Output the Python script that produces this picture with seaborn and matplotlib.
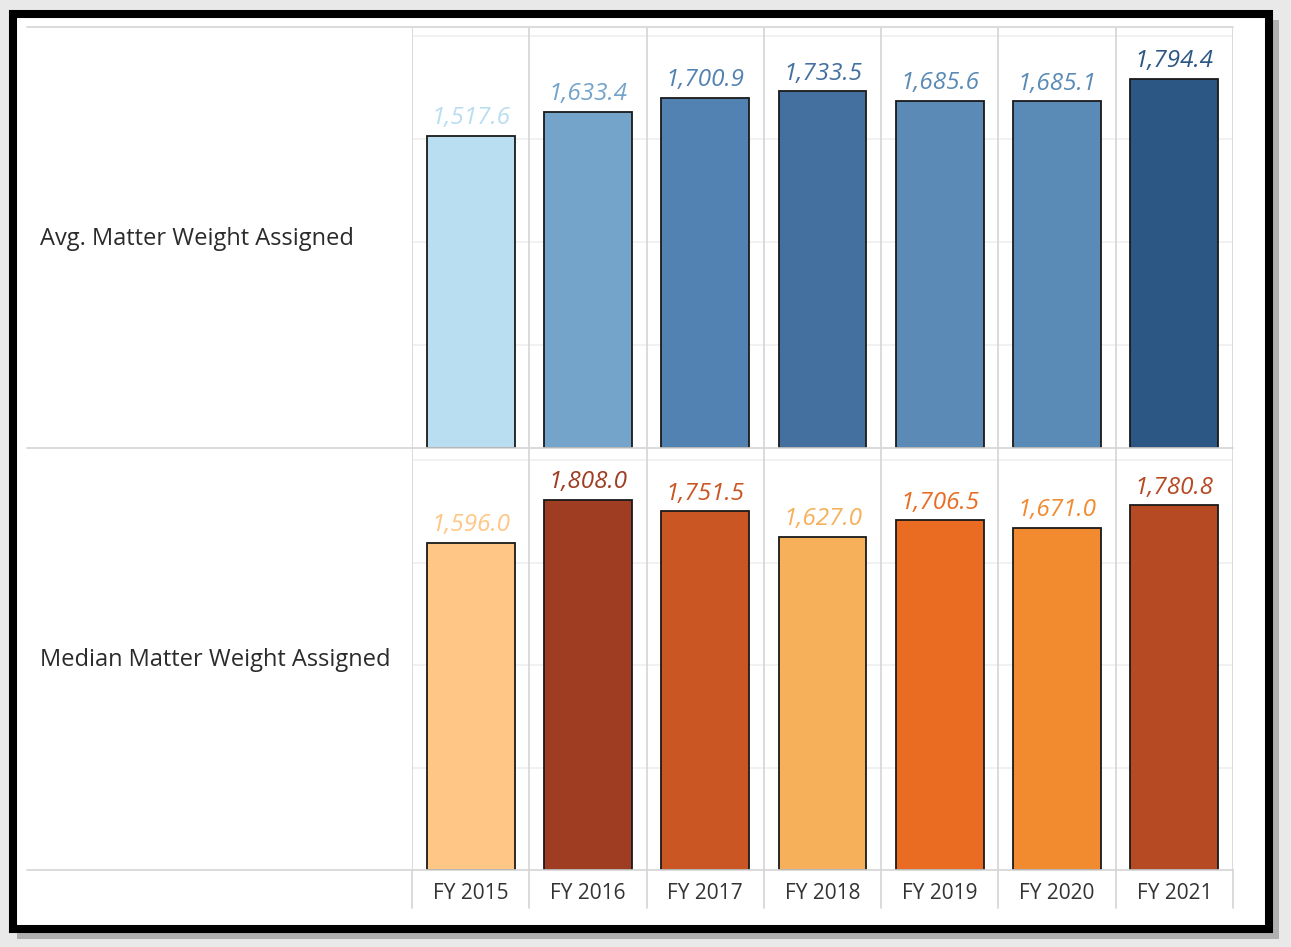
import matplotlib
matplotlib.use("Agg")
import matplotlib.pyplot as plt
import seaborn as sns
import pandas as pd
from matplotlib.lines import Line2D
from matplotlib.patches import Rectangle

# Data
years = ["FY 2015", "FY 2016", "FY 2017", "FY 2018", "FY 2019", "FY 2020", "FY 2021"]
avg_weight = [1517.6, 1633.4, 1700.9, 1733.5, 1685.6, 1685.1, 1794.4]
median_weight = [1596.0, 1808.0, 1751.5, 1627.0, 1706.5, 1671.0, 1780.8]
row_labels = ["Avg. Matter Weight Assigned", "Median Matter Weight Assigned"]

avg_colors = ["#b9ddf1", "#74a4ca", "#5282b1", "#44709f", "#5a8ab5", "#5a8ab6", "#2c5784"]
median_colors = ["#ffc685", "#9e3d22", "#c95623", "#f6b05a", "#e96c22", "#f28a30", "#b54a23"]

W, H = 1291, 947
sns.set_theme(style="white")
plt.rcParams["font.family"] = ["Open Sans", "DejaVu Sans"]

fig = plt.figure(figsize=(W / 100, H / 100), dpi=100, facecolor="#e9e9e9")


def fx(px):
    return px / W


def fy(py):
    return 1 - py / H


def frect(x0, y0, x1, y1, **kw):
    # rectangle given in pixel coords (top-left origin)
    return Rectangle((fx(x0), fy(y1)), fx(x1) - fx(x0), fy(y0) - fy(y1),
                     transform=fig.transFigure, **kw)


# frame shadow, white card and black border
fig.add_artist(frect(17, 20, 1279, 939, facecolor="#b0b0b0", edgecolor="none", zorder=0.05))
fig.add_artist(frect(13, 14, 1269, 929, facecolor="white", edgecolor="black",
                     linewidth=5.8, zorder=0.1))

grid_dark = "#d4d4d4"
grid_light = "#efefef"

panels = [
    (avg_weight, avg_colors, 28, 448, 2040),
    (median_weight, median_colors, 448, 870, 2060),
]

for i, (vals, cols, top, bottom, ymax) in enumerate(panels):
    ax = fig.add_axes([fx(412), fy(bottom), fx(1233) - fx(412), fy(top) - fy(bottom)])
    ax.set_zorder(1)
    ax.set_facecolor("none")
    df = pd.DataFrame({"year": years, "value": vals})
    sns.barplot(data=df, x="year", y="value", hue="year", palette=dict(zip(years, cols)),
                saturation=1, width=0.75, edgecolor="#1a1a1a", linewidth=1.3,
                legend=False, ax=ax, zorder=3)
    for cont, c in zip(ax.containers, cols):
        ax.bar_label(cont, labels=[f"{v:,.1f}" for v in cont.datavalues], padding=4,
                     color=c, fontsize=17.5, fontstyle="italic", zorder=4)
    ax.set_ylim(0, ymax)
    ax.set_xlim(-0.5, len(years) - 0.5)
    ax.set_yticks([500, 1000, 1500, 2000])
    ax.yaxis.grid(True, color=grid_light, linewidth=1.2, zorder=0)
    ax.set_yticklabels([])
    ax.tick_params(left=False, bottom=False)
    ax.set_xlabel("")
    ax.set_ylabel("")
    for s in ax.spines.values():
        s.set_visible(False)
    # column dividers
    for k in range(len(years) + 1):
        ax.axvline(k - 0.5, color=grid_dark, linewidth=1.2, zorder=1)
    if i == 0:
        ax.set_xticklabels([])
    else:
        ax.set_xticks(range(len(years)))
        ax.set_xticklabels(years, fontsize=15, color="#333333")
        ax.tick_params(axis="x", pad=3)
    fig.text(fx(40), fy((top + bottom) / 2 + 1), row_labels[i], fontsize=17,
             color="#2b2b2b", ha="left", va="center", zorder=2)

# header / row separators across the label column
for py, x0 in [(27, 27), (448, 27), (870, 27)]:
    fig.add_artist(Line2D([fx(x0), fx(1233)], [fy(py), fy(py)], transform=fig.transFigure,
                          color=grid_dark, linewidth=1.2, zorder=2))
# column dividers in the axis label strip
for k in range(len(years) + 1):
    px = 412 + k * (1233 - 412) / len(years)
    fig.add_artist(Line2D([fx(px), fx(px)], [fy(870), fy(908)], transform=fig.transFigure,
                          color=grid_dark, linewidth=1.2, zorder=2))

fig.savefig("out.png", dpi=100, facecolor=fig.get_facecolor())
